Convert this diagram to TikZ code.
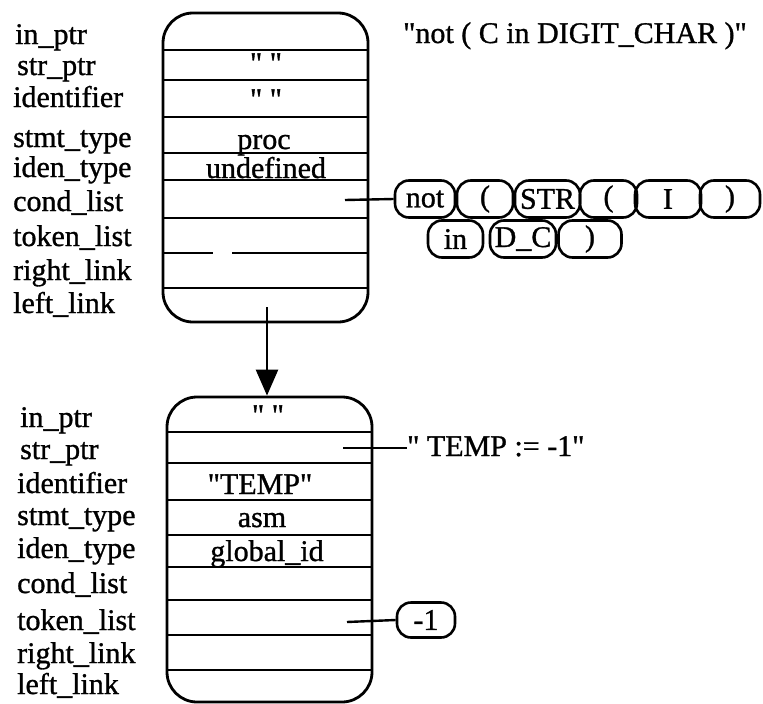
\documentclass[tikz,border=0pt]{standalone}
\usepackage{fontspec}
\setmainfont{Liberation Serif}[FakeBold=1]
\usetikzlibrary{arrows.meta}
\newcommand\dq{\XeTeXglyph\XeTeXcharglyph"22\relax}
\begin{document}
\begin{tikzpicture}[x=1pt,y=-1pt,
  txt/.style={inner sep=0pt, font=\fontsize{30}{33}\selectfont},
  lbl/.style={txt, anchor=base west},
  cell/.style={txt, anchor=base},
  recbox/.style={draw, line width=2.8pt, rounded corners=30pt, inner sep=0pt},
  divider/.style={line width=2.4pt},
  tok/.style={draw, line width=2.6pt, rounded corners=14pt, inner sep=0pt, minimum height=37pt, font=\fontsize{30}{33}\selectfont},
  link/.style={line width=2.4pt}
]
\useasboundingbox (0,0) rectangle (763,704);

% ---------- top record ----------
\node[recbox, minimum width=205pt, minimum height=309pt] (box1) at (265.5,167.5) {};
\foreach \yy in {50,80,117,153,180,218,288}
  \draw[divider] (163,\yy) -- (368,\yy);
\draw[divider] (163,253) -- (213,253);
\draw[divider] (232,253) -- (368,253);

\node[lbl] (l1) at (15,44)  {in\_ptr};
\node[lbl] (l2) at (17,75)  {str\_ptr};
\node[lbl] (l3) at (13,107) {identifier};
\node[lbl] (l4) at (13,147) {stmt\_type};
\node[lbl] (l5) at (13,177) {iden\_type};
\node[lbl] (l6) at (13,211) {cond\_list};
\node[lbl] (l7) at (13,246) {token\_list};
\node[lbl] (l8) at (13,280) {right\_link};
\node[lbl] (l9) at (13,313) {left\_link};

\node[cell] (c2) at (266,73)  {\dq\ \dq};
\node[cell] (c3) at (266,109) {\dq\ \dq};
\node[cell] (c4) at (264,149) {proc};
\node[cell] (c5) at (266,178) {undefined};

\node[lbl] (title) at (403,43) {\dq not ( C in DIGIT\_CHAR )\dq};

% condition token list
\node[tok, minimum width=60pt] (t1) at (425,199)   {not};
\node[tok, minimum width=56pt] (t2) at (485,199)   {(};
\node[tok, minimum width=65pt] (t3) at (547.5,199) {STR};
\node[tok, minimum width=57pt] (t4) at (608.5,199) {(};
\node[tok, minimum width=66pt] (t5) at (668,199)   {I};
\node[tok, minimum width=60pt] (t6) at (730,199)   {)};
\node[tok, minimum width=55pt] (t7) at (455.5,239) {in};
\node[tok, minimum width=66pt] (t8) at (523,239)   {D\_C};
\node[tok, minimum width=63pt] (t9) at (590,239)   {)};

\coordinate (p1) at (345,200);
\draw[link] (p1) -- (t1.west);

% arrow between records
\coordinate (a1) at (267,307);

% ---------- bottom record ----------
\node[recbox, minimum width=205pt, minimum height=305pt] (box2) at (269.5,549.5) {};
\foreach \yy in {432,463,500,535,567,600,635,670}
  \draw[divider] (167,\yy) -- (372,\yy);

\draw[line width=2.6pt, -{Triangle[length=26pt,width=22pt]}] (a1) -- (a1 |- box2.north);

\node[lbl] (m1) at (20,427) {in\_ptr};
\node[lbl] (m2) at (20,459) {str\_ptr};
\node[lbl] (m3) at (17,493) {identifier};
\node[lbl] (m4) at (17,525) {stmt\_type};
\node[lbl] (m5) at (17,558) {iden\_type};
\node[lbl] (m6) at (17,593) {cond\_list};
\node[lbl] (m7) at (17,630) {token\_list};
\node[lbl] (m8) at (17,663) {right\_link};
\node[lbl] (m9) at (17,694) {left\_link};

\node[cell] (d1) at (268,425) {\dq\ \dq};
\node[cell] (d3) at (260,494) {\dq TEMP\dq};
\node[cell] (d4) at (262,527) {asm};
\node[cell] (d5) at (267,561) {global\_id};

\coordinate (p2) at (343,448);
\node[txt, anchor=base west] (s1) at (407,456) {\dq\ TEMP := -1\dq};
\draw[link] (p2) -- (s1.west |- p2);

\coordinate (p3) at (347,622);
\node[tok, minimum width=58pt, minimum height=35pt] (n1) at (426,620) {-1};
\draw[link] (p3) -- (n1.west);

\end{tikzpicture}
\end{document}
